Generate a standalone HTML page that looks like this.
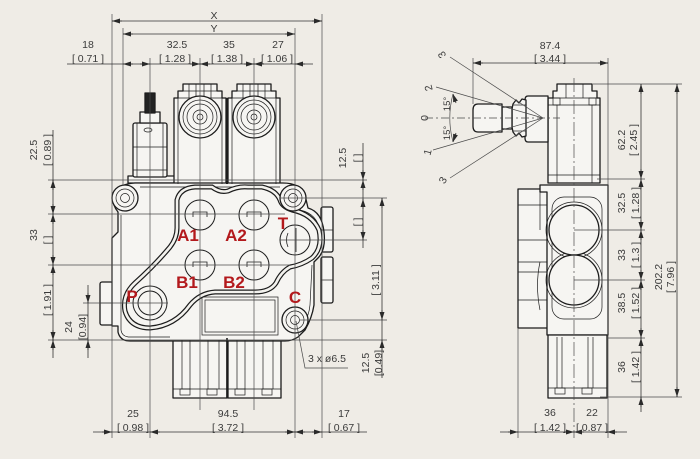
<!DOCTYPE html>
<html><head><meta charset="utf-8"><style>
html,body{margin:0;padding:0;background:#efece6;}
svg{display:block}
text{font-family:"Liberation Sans",sans-serif;fill:#3a3a3a;font-size:10.5px}
.r{font-weight:bold;fill:#b3191c;font-size:17px}
</style></head><body>
<svg width="700" height="459" viewBox="0 0 700 459" xmlns="http://www.w3.org/2000/svg">
<defs>
<marker id="ar" viewBox="0 0 8 5" refX="8" refY="2.5" markerWidth="8" markerHeight="5" markerUnits="userSpaceOnUse" orient="auto"><path d="M0,0L8,2.5L0,5z" fill="#2a2a2a"/></marker>
</defs>
<rect width="700" height="459" fill="#efece6"/>

<!-- ===== LEFT VIEW PART ===== -->
<g stroke="#1c1c1c" stroke-width="1.3" fill="#f6f5f2" stroke-linejoin="round">
  <!-- relief valve -->
  <rect x="128" y="176" width="48" height="7"/>
  <rect x="133" y="123" width="34" height="54" rx="2"/>
  <rect x="140" y="112" width="20" height="11"/>
  <rect x="145" y="93" width="10" height="20" fill="#222"/>
  <!-- top spool housings -->
  <path d="M174,184 V98 H178 V91 H183 V84 H217 V91 H222 V98 H226 V184 Z"/>
  <path d="M228,184 V98 H232 V91 H237 V84 H271 V91 H276 V98 H280 V184 Z"/>
  <!-- bottom spools -->
  <path d="M173,338 V398 H227 V338 Z"/>
  <path d="M228,338 V398 H281 V338 Z"/>
  <!-- fittings -->
  <rect x="100" y="282" width="13" height="43" rx="2"/>
  <rect x="321" y="207" width="12" height="45" rx="2"/>
  <rect x="321" y="257" width="12" height="46" rx="2"/>
  <!-- main body -->
  <path d="M135,183 H283 Q300,183 305,195 L308,208 Q322,212 324,232 Q326,250 318,258 L314,262 L314,305 Q312,318 305,330 L298,337 Q292,341 285,341 H130 Q120,341 118,332 L118,326 L112,326 L112,238 L118,232 L118,212 Q112,205 113,195 Q118,184 135,183 Z"/>
</g>
<g stroke="#1c1c1c" stroke-width="0.7" fill="none">
  <line x1="150" y1="112" x2="150" y2="123"/>
  <line x1="133" y1="147" x2="167" y2="147"/>
  <line x1="137" y1="123" x2="137" y2="177"/>
  <line x1="163" y1="123" x2="163" y2="177"/>
  <line x1="133" y1="170" x2="167" y2="170"/>
  <ellipse cx="148" cy="130" rx="4" ry="2"/>
  <!-- spool housing details -->
  <line x1="174" y1="98" x2="226" y2="98"/><line x1="178" y1="91" x2="222" y2="91"/>
  <line x1="178" y1="98" x2="178" y2="184"/><line x1="222" y1="98" x2="222" y2="184"/>
  <line x1="189" y1="84" x2="189" y2="98"/><line x1="196" y1="84" x2="196" y2="98"/><line x1="204" y1="84" x2="204" y2="98"/><line x1="211" y1="84" x2="211" y2="98"/>
  <line x1="228" y1="98" x2="280" y2="98"/><line x1="232" y1="91" x2="276" y2="91"/>
  <line x1="232" y1="98" x2="232" y2="184"/><line x1="276" y1="98" x2="276" y2="184"/>
  <line x1="243" y1="84" x2="243" y2="98"/><line x1="250" y1="84" x2="250" y2="98"/><line x1="258" y1="84" x2="258" y2="98"/><line x1="265" y1="84" x2="265" y2="98"/>
  <line x1="227" y1="98" x2="227" y2="184" stroke-width="2"/>
  <!-- bottom spool details -->
  <line x1="173" y1="389" x2="227" y2="389"/><line x1="228" y1="389" x2="281" y2="389"/>
  <line x1="182" y1="340" x2="182" y2="389"/><line x1="190" y1="340" x2="190" y2="389"/><line x1="208" y1="340" x2="208" y2="389"/><line x1="219" y1="340" x2="219" y2="389"/>
  <line x1="237" y1="340" x2="237" y2="389"/><line x1="245" y1="340" x2="245" y2="389"/><line x1="263" y1="340" x2="263" y2="389"/><line x1="273" y1="340" x2="273" y2="389"/>
  <rect x="180" y="389" width="10" height="6"/><rect x="207" y="389" width="10" height="6"/>
  <rect x="235" y="389" width="10" height="6"/><rect x="262" y="389" width="10" height="6"/>
  <line x1="227" y1="338" x2="227" y2="398" stroke-width="1.6"/>
  <line x1="100" y1="303" x2="113" y2="303"/>
  <line x1="321" y1="230" x2="333" y2="230"/><line x1="321" y1="280" x2="333" y2="280"/>
  <!-- body inner edges -->
  <path d="M121,215 V330 Q122,337 130,337 H170"/>
  <path d="M300,210 Q318,214 320,232"/>
  <path d="M312,265 L310,305 Q309,316 303,325"/>
  <line x1="140" y1="187" x2="280" y2="187"/>
  <rect x="202" y="297" width="76" height="38"/>
  <rect x="205" y="300" width="70" height="32"/>
</g>
<!-- top spool circles -->
<g stroke="#1c1c1c" fill="#f6f5f2">
  <circle cx="200" cy="117" r="21" stroke-width="1.3"/>
  <circle cx="254" cy="117" r="21" stroke-width="1.3"/>
</g>
<g stroke="#1c1c1c" fill="none" stroke-width="0.7">
  <circle cx="200" cy="117" r="17"/><circle cx="200" cy="117" r="13"/><circle cx="200" cy="117" r="7"/><circle cx="200" cy="117" r="3"/>
  <circle cx="254" cy="117" r="17"/><circle cx="254" cy="117" r="13"/><circle cx="254" cy="117" r="7"/><circle cx="254" cy="117" r="3"/>
</g>
<!-- kidney raised face (double line) -->
<g fill="none">
  <path id="kid" d="M177,200 Q180,188 195,187 L212,187 Q220,193 228,191 Q238,186 248,187 L262,187 Q276,190 280,200 Q282,207 292,210 Q312,214 319,230 Q323,248 312,258 Q302,265 290,267 Q281,272 276,283 Q270,292 255,292 L215,292 Q200,293 190,305 Q175,326 150,328 Q130,328 125,311 Q122,295 135,283 Q155,265 170,247 Q177,238 177,228 Z" stroke="#1c1c1c" stroke-width="5"/>
  <path d="M177,200 Q180,188 195,187 L212,187 Q220,193 228,191 Q238,186 248,187 L262,187 Q276,190 280,200 Q282,207 292,210 Q312,214 319,230 Q323,248 312,258 Q302,265 290,267 Q281,272 276,283 Q270,292 255,292 L215,292 Q200,293 190,305 Q175,326 150,328 Q130,328 125,311 Q122,295 135,283 Q155,265 170,247 Q177,238 177,228 Z" stroke="#f3f2ee" stroke-width="2.6"/>
</g>
<!-- ports -->
<g stroke="#1c1c1c" stroke-width="1" fill="#f6f5f2">
  <circle cx="200" cy="215" r="15"/><circle cx="254" cy="215" r="15"/>
  <circle cx="200" cy="265" r="15"/><circle cx="254" cy="265" r="15"/>
  <circle cx="295" cy="240" r="15"/>
  <circle cx="150" cy="303" r="17"/><circle cx="150" cy="303" r="12" fill="none"/>
  <!-- bosses -->
  <circle cx="125" cy="198" r="13" stroke-width="1.3"/><circle cx="125" cy="198" r="9" fill="none" stroke-width="0.7"/><circle cx="125" cy="198" r="4.5" fill="none" stroke-width="0.7"/>
  <circle cx="293" cy="198" r="13" stroke-width="1.3"/><circle cx="293" cy="198" r="9" fill="none" stroke-width="0.7"/><circle cx="293" cy="198" r="4.5" fill="none" stroke-width="0.7"/>
  <circle cx="295" cy="320" r="13" stroke-width="1.3"/><circle cx="295" cy="320" r="9" fill="none" stroke-width="0.7"/><circle cx="295" cy="320" r="4.5" fill="none" stroke-width="0.7"/>
</g>
<g stroke="#1c1c1c" stroke-width="0.8" fill="none">
  <path d="M193,217 V212 H207 V217"/><path d="M247,217 V212 H261 V217"/>
  <path d="M193,267 V262 H207 V267"/><path d="M247,267 V262 H261 V267"/>
  <path d="M288,233 Q285,240 288,247 M296,228 V252"/>
</g>

<!-- ===== RIGHT VIEW PART ===== -->
<g stroke="#1c1c1c" stroke-width="1.3" fill="#f6f5f2" stroke-linejoin="round">
  <path d="M548,183 V98 H553 V91 H557 V84 H592 V91 H597 V98 H600 V183 Z"/>
  <path d="M548,96 H528 Q525,96 525,100 V138 Q525,142 528,142 H548 Z"/>
  <path d="M526,100 L522,99 L519,103 L516,100 L513,104 L512,109 V127 L513,132 L516,136 L519,133 L522,137 L526,136 Z"/>
  <rect x="502" y="107" width="10" height="22"/>
  <path d="M502,104 H478 Q473,104 473,110 V126 Q473,132 478,132 H502 Z"/>
  <rect x="518" y="189" width="30" height="139"/>
  <path d="M540,185 H608 V335 H547 V192 H540 Z"/>
  <path d="M548,335 V398 H607 V335 Z"/>
</g>
<g stroke="#1c1c1c" stroke-width="0.7" fill="none">
  <line x1="548" y1="105" x2="600" y2="105"/><line x1="553" y1="98" x2="597" y2="98"/>
  <rect x="553" y="98" width="7" height="7"/><rect x="589" y="98" width="7" height="7"/>
  <line x1="557" y1="105" x2="557" y2="183"/><line x1="592" y1="105" x2="592" y2="183"/>
  <line x1="566" y1="84" x2="566" y2="98"/><line x1="583" y1="84" x2="583" y2="98"/>
  <line x1="548" y1="175" x2="600" y2="175"/>
  <line x1="518" y1="205" x2="547" y2="205"/><line x1="518" y1="240" x2="547" y2="240"/>
  <line x1="518" y1="262" x2="547" y2="262"/><line x1="518" y1="272" x2="547" y2="272"/>
  <line x1="518" y1="300" x2="547" y2="300"/><line x1="540" y1="192" x2="540" y2="230"/>
  <path d="M540,262 Q535,285 540,310"/>
  <rect x="552" y="197" width="50" height="122" rx="12"/>
  <circle cx="574" cy="230" r="28"/><circle cx="574" cy="280" r="28"/>
  <line x1="548" y1="388" x2="607" y2="388"/>
  <line x1="557" y1="337" x2="557" y2="388"/><line x1="562" y1="337" x2="562" y2="388"/>
  <line x1="588" y1="337" x2="588" y2="388"/><line x1="593" y1="337" x2="593" y2="388"/>
  <rect x="555" y="388" width="10" height="6"/><rect x="582" y="388" width="10" height="6"/>
  <line x1="513" y1="105" x2="526" y2="105"/><line x1="513" y1="131" x2="526" y2="131"/>
</g>
<g stroke="#1c1c1c" stroke-width="1.3" fill="#f6f5f2">
  <circle cx="574" cy="230" r="25"/><circle cx="574" cy="280" r="25"/>
</g>

<!-- ===== CENTER & EXTENSION LINES ===== -->
<g stroke="#4a4a4a" stroke-width="0.7" fill="none">
  <line x1="112" y1="14" x2="112" y2="438"/>
  <line x1="322" y1="14" x2="322" y2="438"/>
  <line x1="123" y1="28" x2="123" y2="186"/>
  <line x1="295" y1="28" x2="295" y2="438"/>
  <line x1="150" y1="58" x2="150" y2="438"/>
  <line x1="200" y1="58" x2="200" y2="410"/>
  <line x1="254" y1="58" x2="254" y2="410"/>
  <line x1="48" y1="180" x2="367" y2="180"/>
  <line x1="48" y1="214" x2="285" y2="214"/>
  <line x1="48" y1="265" x2="290" y2="265"/>
  <line x1="48" y1="340" x2="387" y2="340"/>
  <line x1="83" y1="303" x2="168" y2="303"/>
  <line x1="280" y1="240" x2="367" y2="240"/>
  <line x1="280" y1="198" x2="387" y2="198"/>
  <line x1="300" y1="320" x2="387" y2="320"/>
  <line x1="473" y1="58" x2="473" y2="104"/>
  <line x1="608" y1="58" x2="608" y2="438"/>
  <line x1="518" y1="328" x2="518" y2="438"/>
  <line x1="574" y1="78" x2="574" y2="438" stroke-dasharray="14,3,2,3"/>
  <line x1="593" y1="84" x2="682" y2="84"/>
  <line x1="597" y1="179" x2="645" y2="179"/>
  <line x1="574" y1="230" x2="645" y2="230"/>
  <line x1="574" y1="280" x2="645" y2="280"/>
  <line x1="607" y1="338" x2="645" y2="338"/>
  <line x1="600" y1="397" x2="682" y2="397"/>
  <line x1="425" y1="118" x2="560" y2="118" stroke-dasharray="8,3,2,3"/>
  <line x1="450" y1="57" x2="543" y2="118"/>
  <line x1="436" y1="87" x2="543" y2="118"/>
  <line x1="433" y1="150" x2="543" y2="118"/>
  <line x1="450" y1="178" x2="543" y2="118"/>
  <path d="M453,94 A93,93 0 0 0 453,142"/>
  <!-- leader -->
  <path d="M296,321 L305,368 H348"/>
</g>

<!-- ===== DIMENSION LINES ===== -->
<g stroke="#333" stroke-width="0.8" fill="none">
  <line x1="112" y1="21" x2="322" y2="21"/>
  <line x1="123" y1="34" x2="295" y2="34"/>
  <line x1="67" y1="64" x2="313" y2="64"/>
  <line x1="93" y1="432" x2="367" y2="432"/>
  <line x1="53" y1="130" x2="53" y2="358"/>
  <line x1="88" y1="285" x2="88" y2="358"/>
  <line x1="363" y1="143" x2="363" y2="248"/>
  <line x1="382" y1="198" x2="382" y2="378"/>
  <line x1="473" y1="63" x2="608" y2="63"/>
  <line x1="641" y1="84" x2="641" y2="412"/>
  <line x1="677" y1="84" x2="677" y2="397"/>
  <line x1="500" y1="432" x2="627" y2="432"/>
</g>
<g stroke="#2a2a2a" stroke-width="0.8" fill="none" marker-end="url(#ar)">
  <path d="M122,21 L112,21"/><path d="M312,21 L322,21"/>
  <path d="M133,34 L123,34"/><path d="M285,34 L295,34"/>
  <path d="M133,64 L123,64"/><path d="M140,64 L150,64"/><path d="M190,64 L200,64"/><path d="M210,64 L200,64"/>
  <path d="M244,64 L254,64"/><path d="M264,64 L254,64"/><path d="M305,64 L295,64"/>
  <path d="M102,432 L112,432"/><path d="M160,432 L150,432"/><path d="M285,432 L295,432"/><path d="M305,432 L295,432"/><path d="M312,432 L322,432"/>
  <path d="M53,190 L53,180"/><path d="M53,204 L53,214"/><path d="M53,224 L53,214"/><path d="M53,255 L53,265"/><path d="M53,275 L53,265"/><path d="M53,330 L53,340"/><path d="M53,350 L53,340"/>
  <path d="M88,293 L88,303"/><path d="M88,350 L88,340"/>
  <path d="M363,170 L363,180"/><path d="M363,190 L363,180"/><path d="M363,209 L363,199"/><path d="M363,230 L363,240"/>
  <path d="M382,208 L382,198"/><path d="M382,310 L382,320"/><path d="M382,350 L382,340"/>
  <path d="M483,63 L473,63"/><path d="M598,63 L608,63"/>
  <path d="M641,94 L641,84"/><path d="M641,169 L641,179"/><path d="M641,189 L641,179"/><path d="M641,220 L641,230"/><path d="M641,240 L641,230"/>
  <path d="M641,270 L641,280"/><path d="M641,290 L641,280"/><path d="M641,328 L641,338"/><path d="M641,348 L641,338"/><path d="M641,407 L641,397"/>
  <path d="M677,94 L677,84"/><path d="M677,387 L677,397"/>
  <path d="M508,432 L518,432"/><path d="M564,432 L574,432"/><path d="M584,432 L574,432"/><path d="M617,432 L607,432"/>
  <path d="M456,103 L453,94"/><path d="M456,133 L453,142"/>
</g>

<!-- ===== TEXT ===== -->
<g text-anchor="middle">
  <text x="214" y="19">X</text>
  <text x="214" y="32">Y</text>
  <text x="88" y="48">18</text><text x="88" y="62">[ 0.71 ]</text>
  <text x="177" y="48">32.5</text><text x="175" y="62">[ 1.28 ]</text>
  <text x="229" y="48">35</text><text x="227" y="62">[ 1.38 ]</text>
  <text x="278" y="48">27</text><text x="277" y="62">[ 1.06 ]</text>
  <text x="133" y="417">25</text><text x="133" y="431">[ 0.98 ]</text>
  <text x="228" y="417">94.5</text><text x="228" y="431">[ 3.72 ]</text>
  <text x="344" y="417">17</text><text x="344" y="431">[ 0.67 ]</text>
  <text x="550" y="49">87.4</text><text x="550" y="62">[ 3.44 ]</text>
  <text x="550" y="416">36</text><text x="550" y="431">[ 1.42 ]</text>
  <text x="592" y="416">22</text><text x="592" y="431">[ 0.87 ]</text>

  <text transform="translate(37,150) rotate(-90)">22.5</text>
  <text transform="translate(51,150) rotate(-90)">[ 0.89 ]</text>
  <text transform="translate(37,235) rotate(-90)">33</text>
  <text transform="translate(51,240) rotate(-90)">[        ]</text>
  <text transform="translate(51,300) rotate(-90)">[ 1.91 ]</text>
  <text transform="translate(72,327) rotate(-90)">24</text>
  <text transform="translate(86,327) rotate(-90)">[0.94]</text>
  <text transform="translate(346,158) rotate(-90)">12.5</text>
  <text transform="translate(361,158) rotate(-90)">[      ]</text>
  <text transform="translate(361,222) rotate(-90)">[      ]</text>
  <text transform="translate(379,280) rotate(-90)">[ 3.11 ]</text>
  <text transform="translate(369,363) rotate(-90)">12.5</text>
  <text transform="translate(382,363) rotate(-90)">[0.49]</text>

  <text transform="translate(625,140) rotate(-90)">62.2</text>
  <text transform="translate(637,140) rotate(-90)">[ 2.45 ]</text>
  <text transform="translate(625,203) rotate(-90)">32.5</text>
  <text transform="translate(639,203) rotate(-90)">[ 1.28 ]</text>
  <text transform="translate(625,255) rotate(-90)">33</text>
  <text transform="translate(639,255) rotate(-90)">[ 1.3 ]</text>
  <text transform="translate(625,303) rotate(-90)">38.5</text>
  <text transform="translate(639,303) rotate(-90)">[ 1.52 ]</text>
  <text transform="translate(625,367) rotate(-90)">36</text>
  <text transform="translate(639,367) rotate(-90)">[ 1.42 ]</text>
  <text transform="translate(662,277) rotate(-90)">202.2</text>
  <text transform="translate(674,277) rotate(-90)">[ 7.96 ]</text>

  <text transform="translate(445,53) rotate(-120)">3</text>
  <text transform="translate(432,87) rotate(-105)">2</text>
  <text transform="translate(428,118) rotate(-90)">0</text>
  <text transform="translate(431,153) rotate(-75)">1</text>
  <text transform="translate(446,182) rotate(-60)">3</text>
  <text transform="translate(450,104) rotate(-90)" style="font-size:9.5px">15°</text>
  <text transform="translate(450,133) rotate(-90)" style="font-size:9.5px">15°</text>
</g>
<text x="308" y="362">3 x ø6.5</text>

<!-- port labels -->
<g text-anchor="middle" font-family="Liberation Sans, sans-serif">
  <text class="r" x="188" y="241">A1</text>
  <text class="r" x="236" y="241">A2</text>
  <text class="r" x="283" y="229">T</text>
  <text class="r" x="187" y="288">B1</text>
  <text class="r" x="234" y="288">B2</text>
  <text class="r" x="132" y="302">P</text>
  <text class="r" x="295" y="303">C</text>
</g>
</svg>
</body></html>
